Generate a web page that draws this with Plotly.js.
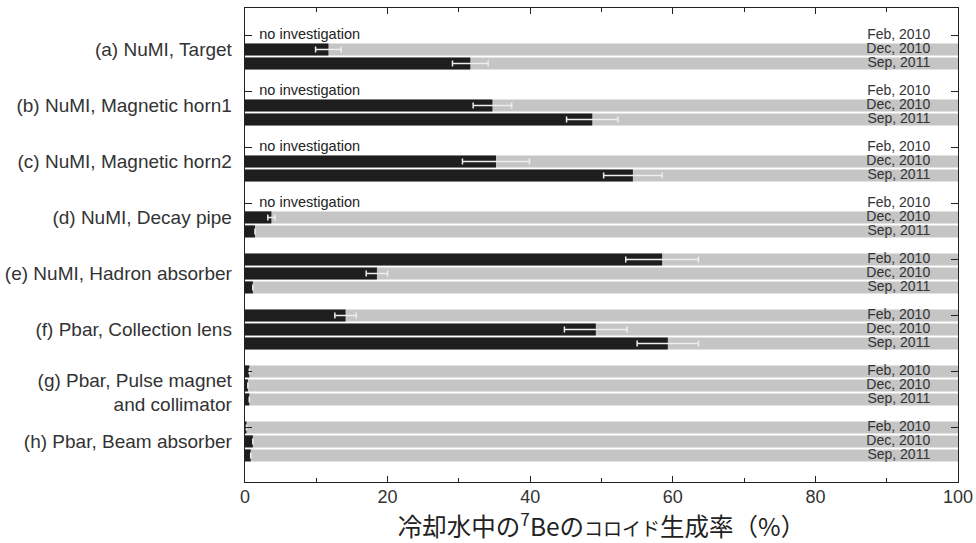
<!DOCTYPE html>
<html>
<head>
<meta charset="utf-8">
<script src="https://cdn.plot.ly/plotly-3.0.1.min.js"></script>
<style>html,body{margin:0;padding:0;background:#fff;}#chart{width:976px;height:543px;}</style>
</head>
<body>
<div id="chart"></div>
<script>
// ---- data ----
const groups = [
  "(a) NuMI, Target",
  "(b) NuMI, Magnetic horn1",
  "(c) NuMI, Magnetic horn2",
  "(d) NuMI, Decay pipe",
  "(e) NuMI, Hadron absorber",
  "(f) Pbar, Collection lens",
  "(g) Pbar, Pulse magnet<br>and collimator",
  "(h) Pbar, Beam absorber"
];
const periods = ["Feb, 2010", "Dec, 2010", "Sep, 2011"];
const feb2010 = [null, null, null, null, 58.5, 14.1, 0.6, 0.2];
const dec2010 = [11.7, 34.7, 35.2, 3.7, 18.5, 49.2, 0.4, 1.1];
const sep2011 = [31.6, 48.7, 54.4, 1.4, 1.1, 59.3, 0.6, 0.8];
const feb2010Err = [null, null, null, null, 5.1, 1.5, null, null];
const dec2010Err = [1.8, 2.7, 4.7, 0.5, 1.5, 4.4, null, null];
const sep2011Err = [2.5, 3.6, 4.1, null, null, 4.3, null, null];
const noInvestigation = "no investigation";
const fullScale = 100;

// ---- build rows ----
const series = [feb2010, dec2010, sep2011];
const errs = [feb2010Err, dec2010Err, sep2011Err];
const rowY = [], rowVal = [], rowErr = [], rowBg = [], rowLabel = [];
const noInvY = [], febRows = [], labelRows = [];
groups.forEach((g, gi) => {
  periods.forEach((p, k) => {
    const y = gi * 4 + k;
    const v = series[k][gi];
    rowY.push(y);
    rowVal.push(v);
    rowErr.push(errs[k][gi]);
    rowLabel.push(p);
    const investigated = !(k === 0 && v === null);
    rowBg.push(investigated ? fullScale : null);
    if (!investigated) noInvY.push(y);
  });
  febRows.push(gi * 4);
  const extraLines = g.split("<br>").length - 1;
  labelRows.push(gi * 4 + 1 + extraLines * 0.5);
});

const yRange = [31.9, -1.96];
const txtColor = "#333333";
const fontFam = "Liberation Sans, Arial, sans-serif";

const traces = [
  {
    type: "bar", orientation: "h", x: rowBg, y: rowY,
    marker: {color: "#c5c5c5", line: {width: 0}}, width: 0.86,
    hoverinfo: "skip", showlegend: false
  },
  {
    type: "bar", orientation: "h", x: rowVal, y: rowY,
    marker: {color: "#1e1e1e", line: {width: 0}}, width: 0.86,
    error_x: {type: "data", array: rowErr, visible: true, color: "#eeeeee", thickness: 1.5, width: 3},
    showlegend: false
  },
  {
    type: "scatter", mode: "text", x: noInvY.map(() => 2.0), y: noInvY,
    text: noInvY.map(() => noInvestigation), textposition: "middle right",
    textfont: {family: fontFam, size: 14.5, color: "#222"},
    yaxis: "y2", showlegend: false, hoverinfo: "skip"
  },
  {
    type: "scatter", mode: "text", x: rowY.map(() => 96.1), y: rowY,
    text: rowLabel, textposition: "middle left",
    textfont: {family: fontFam, size: 14, color: txtColor},
    yaxis: "y3", showlegend: false, hoverinfo: "skip"
  }
];

const layout = {
  width: 976, height: 543,
  margin: {l: 245, r: 18, t: 8, b: 61, pad: 0},
  paper_bgcolor: "#ffffff", plot_bgcolor: "#ffffff",
  barmode: "overlay",
  font: {family: fontFam, color: txtColor},
  xaxis: {
    range: [0, 100], dtick: 20, tick0: 0,
    ticks: "inside", ticklen: 6, tickwidth: 1, tickcolor: "#222",
    minor: {dtick: 10, ticks: "inside", ticklen: 4, tickcolor: "#222"},
    showline: true, linecolor: "#222", linewidth: 1.3, mirror: "ticks",
    showgrid: false, zeroline: false, ticklabelstandoff: -2,
    tickfont: {size: 18, color: txtColor},
    title: {
      text: "冷却水中の<sup>7</sup>Beの<span style=\"font-size:19px\">コロイド</span>生成率（%）",
      font: {family: "Noto Sans CJK JP, sans-serif", size: 24.5, color: "#222"},
      standoff: 5
    },
    fixedrange: true
  },
  yaxis: {
    range: yRange, tickmode: "array", tickvals: labelRows, ticktext: groups,
    ticks: "", showline: true, linecolor: "#222", linewidth: 1.3, mirror: true,
    showgrid: false, zeroline: false, ticklabelstandoff: 8,
    tickfont: {size: 19, color: txtColor}, fixedrange: true
  },
  yaxis2: {
    range: yRange, overlaying: "y", side: "left",
    tickmode: "array", tickvals: febRows, ticks: "inside", ticklen: 7, tickcolor: "#222",
    showticklabels: false, showline: false, showgrid: false, zeroline: false, fixedrange: true
  },
  yaxis3: {
    range: yRange, overlaying: "y", side: "right",
    tickmode: "array", tickvals: febRows, ticks: "inside", ticklen: 7, tickcolor: "#222",
    showticklabels: false, showline: false, showgrid: false, zeroline: false, fixedrange: true
  }
};

Plotly.newPlot("chart", traces, layout, {displayModeBar: false, staticPlot: true});
</script>
</body>
</html>
